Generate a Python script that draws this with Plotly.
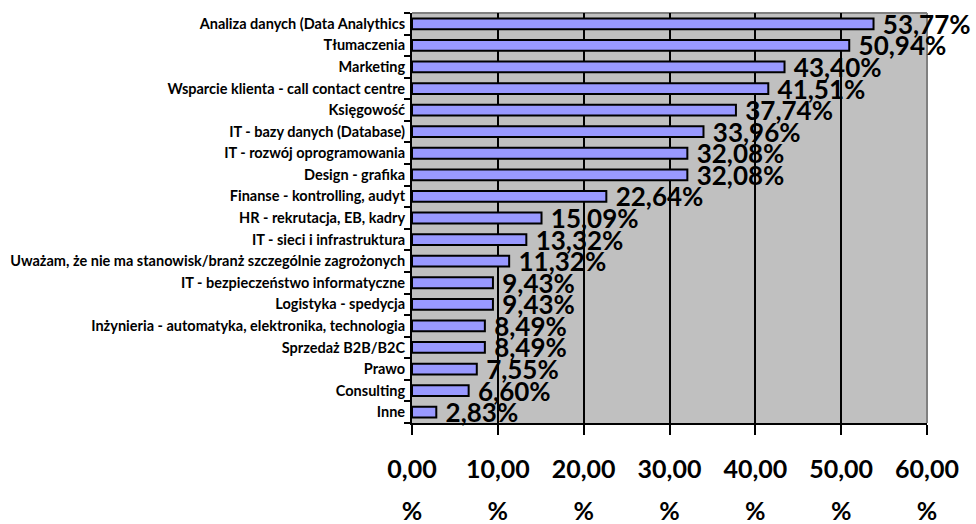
import plotly.graph_objects as go

# Job areas and share of answers (%)
categories = [
    "Analiza danych (Data Analythics",
    "Tłumaczenia",
    "Marketing",
    "Wsparcie klienta - call contact centre",
    "Księgowość",
    "IT - bazy danych (Database)",
    "IT - rozwój oprogramowania",
    "Design - grafika",
    "Finanse - kontrolling, audyt",
    "HR - rekrutacja, EB, kadry",
    "IT - sieci i infrastruktura",
    "Uważam, że nie ma stanowisk/branż szczególnie zagrożonych",
    "IT - bezpieczeństwo informatyczne",
    "Logistyka - spedycja",
    "Inżynieria - automatyka, elektronika, technologia",
    "Sprzedaż B2B/B2C",
    "Prawo",
    "Consulting",
    "Inne",
]
values = [53.77, 50.94, 43.40, 41.51, 37.74, 33.96, 32.08, 32.08, 22.64,
          15.09, 13.32, 11.32, 9.43, 9.43, 8.49, 8.49, 7.55, 6.60, 2.83]

tick_values = [0, 10, 20, 30, 40, 50, 60]
tick_labels = [
    f'<span style="font-size:25px">{v:.2f}'.replace(".", ",")
    + '</span><br><span style="font-size:25px">%</span>'
    for v in tick_values
]

fig = go.Figure(
    go.Bar(
        x=values,
        y=categories,
        orientation="h",
        marker=dict(color="#9999FF", line=dict(color="#000000", width=2)),
        texttemplate=" %{x:.2f}%",
        textposition="outside",
        constraintext="none",
        cliponaxis=False,
        textfont=dict(family="Lato", size=26, color="#000000", weight="bold"),
        hoverinfo="skip",
    )
)

fig.update_layout(
    width=976,
    height=524,
    margin=dict(l=412, r=49, t=13, b=101),
    paper_bgcolor="#FFFFFF",
    plot_bgcolor="#C0C0C0",
    separators=",.",
    bargap=0.5,
    showlegend=False,
    shapes=[
        # plot-area frame on the top and right edges
        dict(type="line", xref="paper", yref="paper", x0=0, x1=1, y0=1, y1=1,
             line=dict(color="#808080", width=2), layer="below"),
        dict(type="line", xref="paper", yref="paper", x0=1, x1=1, y0=0, y1=1,
             line=dict(color="#808080", width=2), layer="below"),
    ],
)

fig.update_xaxes(
    range=[0, 60],
    tickvals=tick_values,
    ticktext=tick_labels,
    tickfont=dict(family="Lato", size=32, color="#000000", weight="bold"),
    showgrid=True,
    gridcolor="#000000",
    gridwidth=2,
    showline=True,
    linecolor="#000000",
    linewidth=2,
    ticks="outside",
    ticklen=10,
    tickwidth=2,
    tickcolor="#000000",
    ticklabelstandoff=5,
    automargin=False,
    zeroline=False,
    fixedrange=True,
)

fig.update_yaxes(
    categoryorder="array",
    categoryarray=categories[::-1],
    autorange=True,
    tickfont=dict(family="Lato", size=14.5, color="#000000", weight="bold"),
    showline=True,
    linecolor="#000000",
    linewidth=2,
    ticks="outside",
    tickson="boundaries",
    ticklen=6,
    tickwidth=2,
    tickcolor="#000000",
    ticklabelstandoff=2,
    automargin=False,
    showgrid=False,
    fixedrange=True,
)

fig.write_html("out.html", config={"displayModeBar": False})
